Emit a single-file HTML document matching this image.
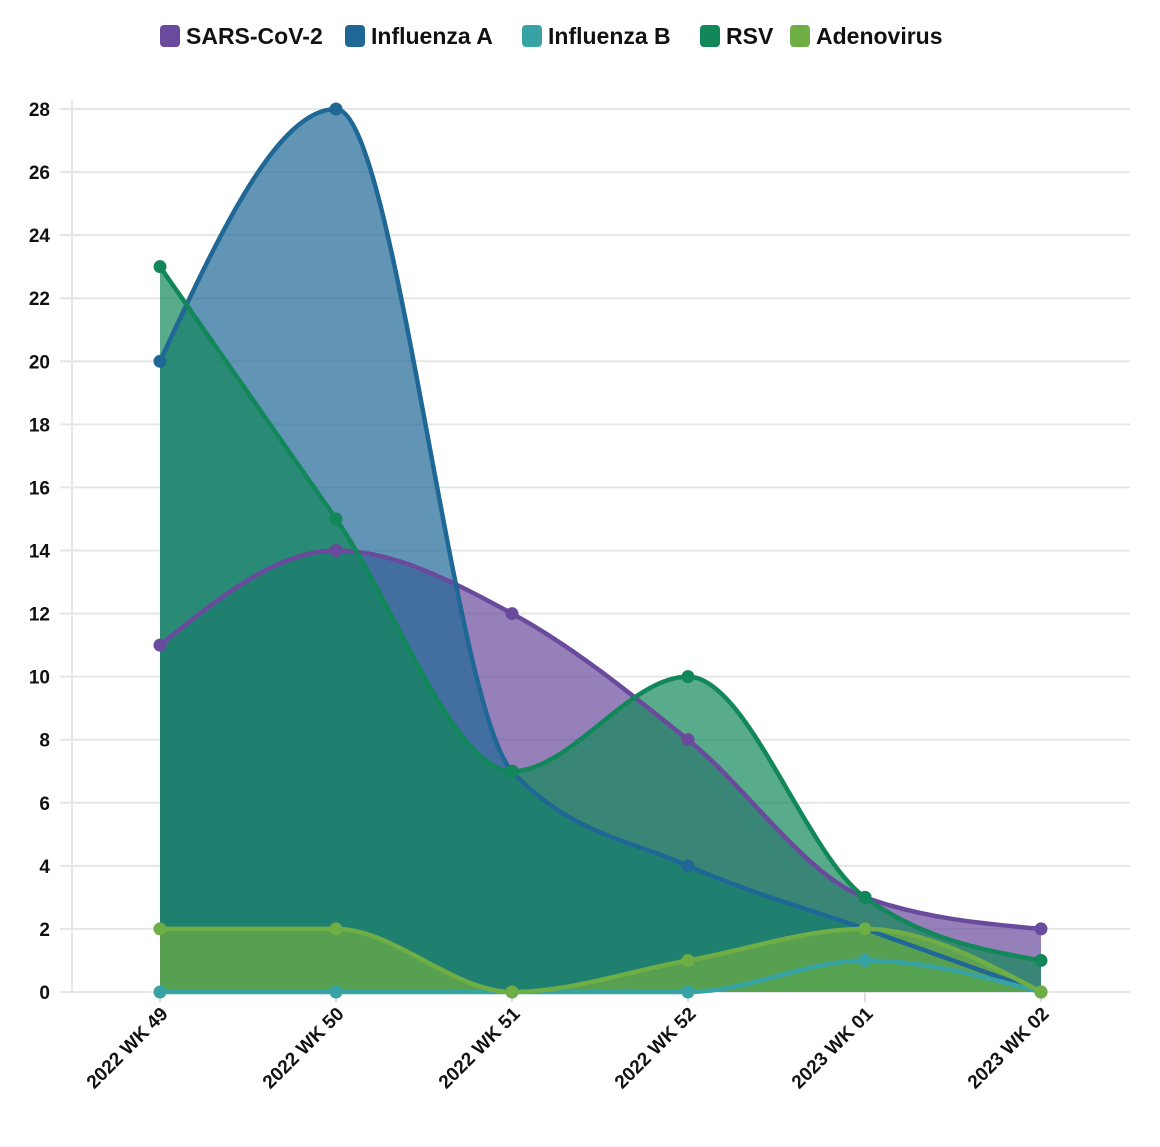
<!DOCTYPE html>
<html><head><meta charset="utf-8"><style>
body{margin:0;background:#fff;}
svg text{font-family:"Liberation Sans",sans-serif;font-weight:bold;fill:#111;}
</style></head><body>
<svg id="s" width="1160" height="1142" xmlns="http://www.w3.org/2000/svg">
<g id="grid"></g>
<g id="areas"></g>
<g id="lines"></g>
<g id="dots"></g>
<g id="leg"></g>
</svg>
<script>
const NS="http://www.w3.org/2000/svg";
const X=[160,336,512,688,865,1041];
const Y=v=>992-v*(883/28);
const series=[
["SARS-CoV-2","#6a4a9c",[11,14,12,8,3,2]],
["Influenza A","#1f6896",[20,28,7,4,2,0]],
["Influenza B","#38a3a5",[0,0,0,0,1,0]],
["RSV","#11875a",[23,15,7,10,3,1]],
["Adenovirus","#6fae45",[2,2,0,1,2,0]]
];
function el(t,a,p){const e=document.createElementNS(NS,t);for(const k in a)e.setAttribute(k,a[k]);p.appendChild(e);return e;}
const g=document.getElementById("grid");
for(let v=0;v<=28;v+=2){const y=Y(v);el("line",{x1:60,x2:1130,y1:y,y2:y,stroke:"#e6e6e6","stroke-width":2},g);
const t=el("text",{x:50,y:y+7,"text-anchor":"end","font-size":19},g);t.textContent=v;}
el("line",{x1:72,x2:72,y1:100,y2:992,stroke:"#e6e6e6","stroke-width":2},g);
const labs=["2022 WK 49","2022 WK 50","2022 WK 51","2022 WK 52","2023 WK 01","2023 WK 02"];
X.forEach((x,i)=>{el("line",{x1:x,x2:x,y1:992,y2:1002,stroke:"#ddd","stroke-width":2},g);
const t=el("text",{x:0,y:0,"text-anchor":"end","font-size":19,transform:`translate(${x+9},${1015}) rotate(-45)`},g);t.textContent=labs[i];});
const sign=v=>v<0?-1:1;
function mono(ys){const pts=X.map((x,i)=>[x,Y(ys[i])]);const n=pts.length;const t=new Array(n);
for(let i=1;i<n-1;i++){const [x0,y0]=pts[i-1],[x1,y1]=pts[i],[x2,y2]=pts[i+1];const h0=x1-x0,h1=x2-x1,s0=(y1-y0)/h0,s1=(y2-y1)/h1,p=(s0*h1+s1*h0)/(h0+h1);
t[i]=(sign(s0)+sign(s1))*Math.min(Math.abs(s0),Math.abs(s1),0.5*Math.abs(p))||0;}
t[0]=(3*(pts[1][1]-pts[0][1])/(pts[1][0]-pts[0][0])-t[1])/2;
t[n-1]=(3*(pts[n-1][1]-pts[n-2][1])/(pts[n-1][0]-pts[n-2][0])-t[n-2])/2;
let d=`M${pts[0][0]},${pts[0][1]}`;
for(let i=0;i<n-1;i++){const dx=(pts[i+1][0]-pts[i][0])/3;d+=`C${pts[i][0]+dx},${pts[i][1]+dx*t[i]},${pts[i+1][0]-dx},${pts[i+1][1]-dx*t[i+1]},${pts[i+1][0]},${pts[i+1][1]}`;}
return d;}
const A=document.getElementById("areas"),L=document.getElementById("lines"),D=document.getElementById("dots"),LG=document.getElementById("leg");
series.forEach(([n,c,ys])=>{const d=mono(ys);
el("path",{d:d+`L1041,992L160,992Z`,fill:c,"fill-opacity":0.7},A);
el("path",{d:d,fill:"none",stroke:c,"stroke-width":4.5},L);
X.forEach((x,i)=>el("circle",{cx:x,cy:Y(ys[i]),r:6.5,fill:c},D));});
const lx=[160,345,522,700,790];
series.forEach(([n,c],i)=>{el("rect",{x:lx[i],y:25,width:20,height:22,rx:4,fill:c},LG);
const t=el("text",{x:lx[i]+26,y:44,"font-size":23},LG);t.textContent=n;});
</script>
</body></html>
